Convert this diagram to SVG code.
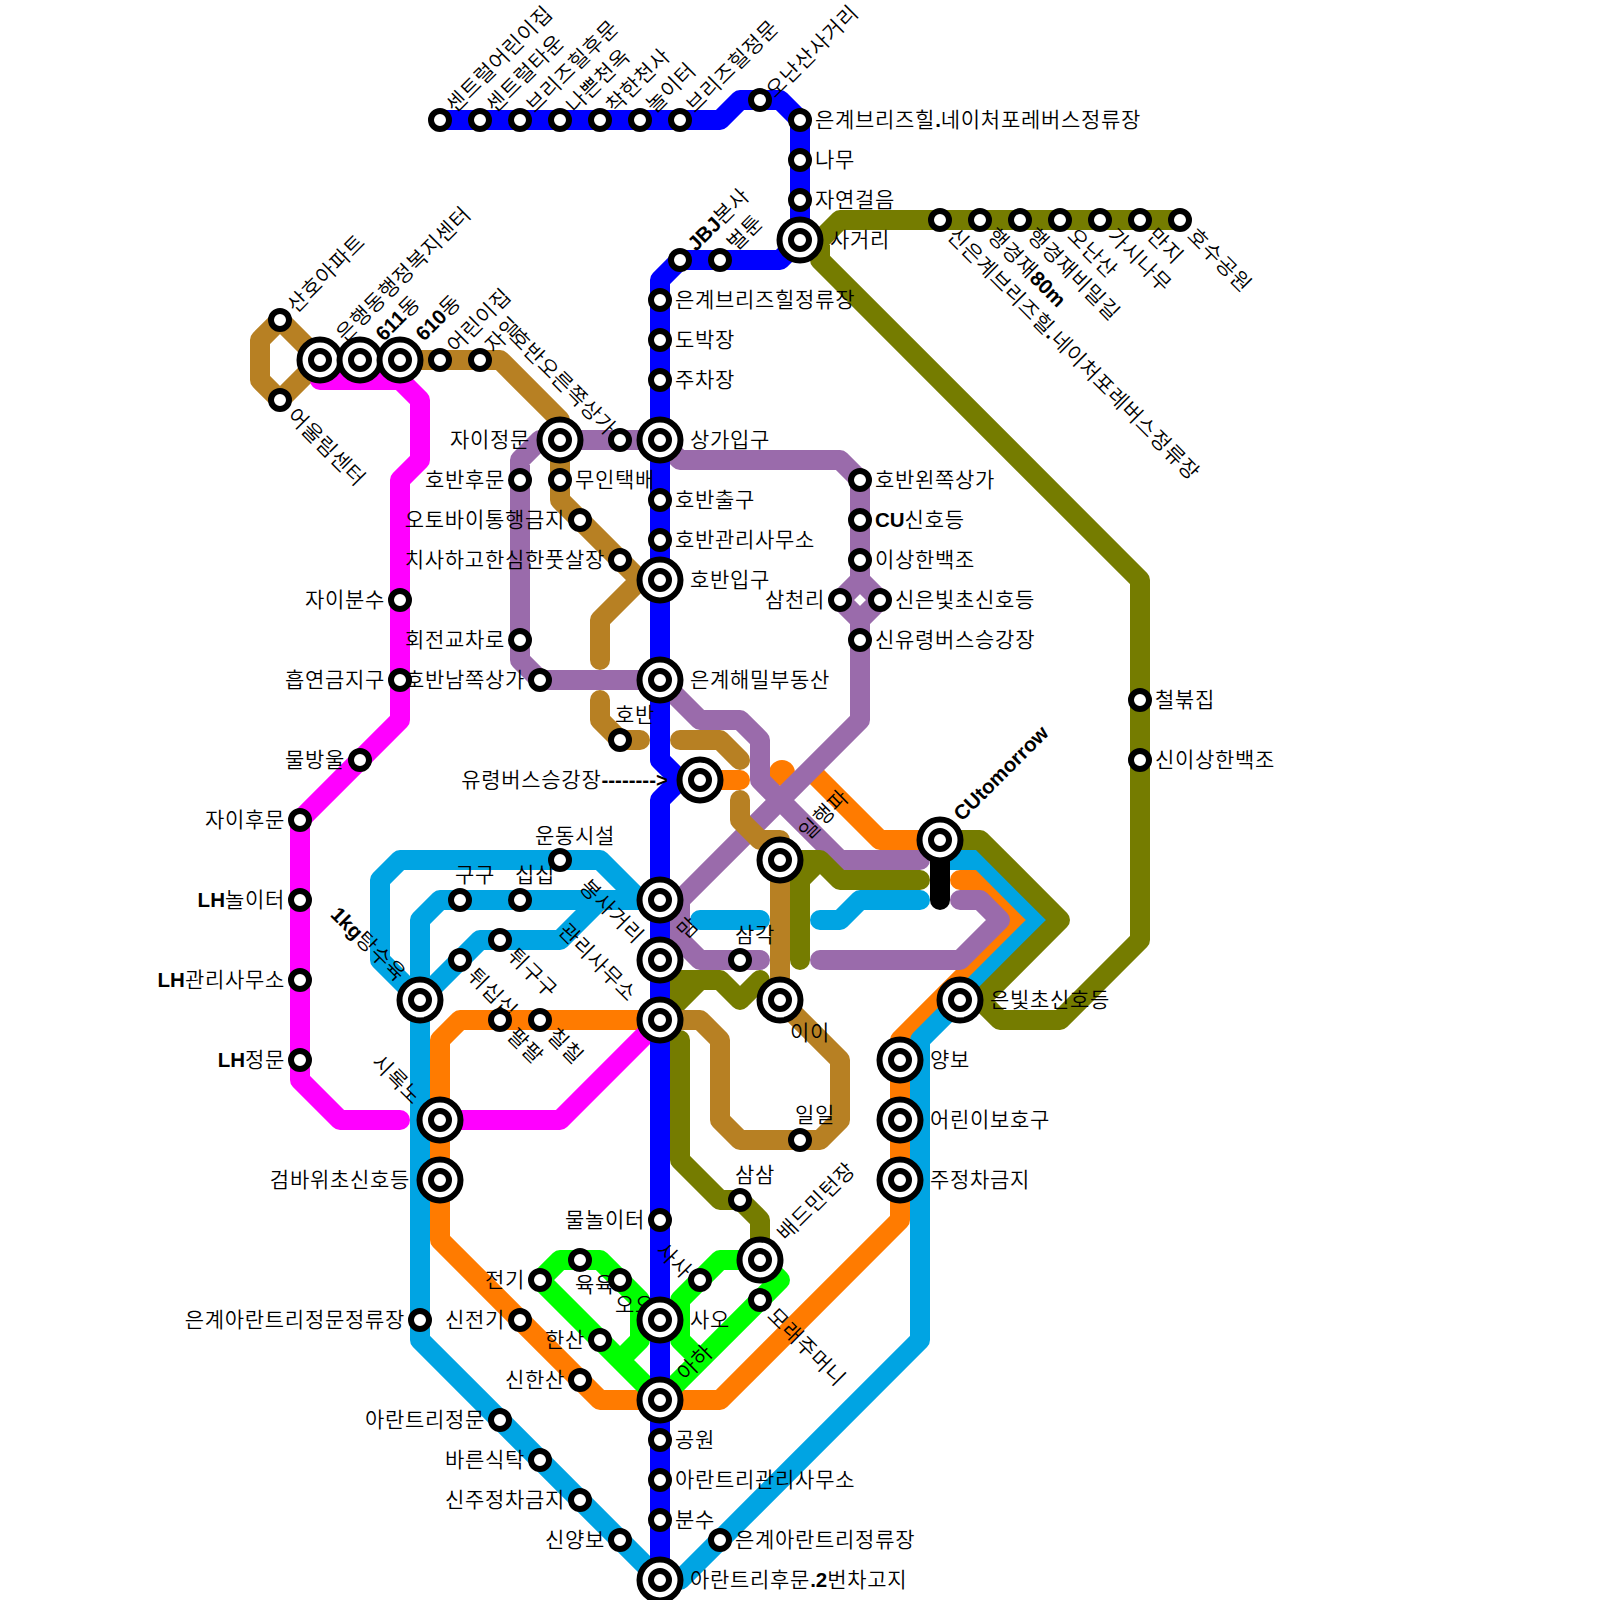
<svg xmlns="http://www.w3.org/2000/svg" width="1600" height="1600" viewBox="0 0 1600 1600">
<style>
text{font-family:"Liberation Sans","Noto Sans CJK KR",sans-serif;font-size:21px;letter-spacing:.7px;font-weight:350;fill:#000}
.e{text-anchor:end}.m{text-anchor:middle}
.b{font-weight:bold;font-size:20.5px;letter-spacing:0}
#lines path{fill:none;stroke-width:20;stroke-linecap:round;stroke-linejoin:round}
.ring{fill:#fff;stroke:#000;stroke-width:6}
</style>
<defs>
<g id="sm"><circle class="ring" r="9"/></g>
<g id="bg"><circle class="ring" r="20.5"/><circle class="ring" r="9"/></g>
</defs>
<rect width="1600" height="1600" fill="#fff"/>
<g id="lines">
<path d="M880 840H940M880 840L815 775M960 880H980L1020 920L900 1040V1220L720 1400H600L440 1240V1040L460 1020H660M700 780H740" stroke="#ff7b00"/>
<circle cx="782" cy="773" r="13" fill="#ff7b00"/>
<path d="M420 1000L380 960V880L400 860H600L640 900H660M420 1000V920L440 900H660M420 1000L480 940H560L600 900M700 920H760M820 920H840L860 900H920M950 860H980L1040 920L920 1040V1340L680 1580H660M420 1000V1340L660 1580" stroke="#00a4e3"/>
<path d="M560 440H660M560 440H540L520 460V660L540 680H660L700 720H740L760 740V780L840 860H920M660 440L680 460H840L860 480V580L840 600L860 620L880 600L860 580M860 620V720L680 900V940L700 960H760M820 960H960L1000 920L980 900H960" stroke="#9a6bab"/>
<path d="M1180 220H840L820 240V260L1140 580V940L1060 1020H1000L980 1000H960M800 240H820M940 840H980L1060 920L980 1000M780 860H820L840 880H920M800 960V880L820 860M670 985V1005M660 980H720L740 1000L760 980M660 1020L700 980M680 1040V1160L720 1200H740L760 1220V1260" stroke="#757c00"/>
<path d="M320 360L280 320L260 340V380L280 400L320 360H500L560 420V500L640 580L600 620V660M600 700V720L620 740H640M680 740H720L740 760M740 800V820L760 840H780V1000L840 1060V1120L820 1140H740L720 1120V1040L700 1020H660" stroke="#b78023"/>
<path d="M320 360V380H400L420 400V460L400 480V720L300 820V1080L340 1120H400M440 1120H560L660 1020" stroke="#ff00ff"/>
<path d="M660 1400L540 1280L560 1260H600L640 1300V1340L620 1360M660 1400L780 1280L760 1260H720L680 1300V1340L700 1360" stroke="#00ff00"/>
<path d="M440 120H720L740 100H780L800 120V240L780 260H680L660 280V760L680 780L660 800V1580M680 780H700" stroke="#0000ff"/>
<path d="M940 840V900" stroke="#000"/>
</g>
<g id="n1"><text transform="translate(455 114) rotate(-45)">센트럴어린이집</text><use href="#sm" x="440" y="120"/></g>
<g id="n2"><text transform="translate(495 114) rotate(-45)">센트럴타운</text><use href="#sm" x="480" y="120"/></g>
<g id="n3"><text transform="translate(535 114) rotate(-45)">브리즈힐후문</text><use href="#sm" x="520" y="120"/></g>
<g id="n4"><text transform="translate(575 114) rotate(-45)">나쁜천옥</text><use href="#sm" x="560" y="120"/></g>
<g id="n5"><text transform="translate(615 114) rotate(-45)">착한천사</text><use href="#sm" x="600" y="120"/></g>
<g id="n6"><text transform="translate(655 114) rotate(-45)">놀이터</text><use href="#sm" x="640" y="120"/></g>
<g id="n7"><text transform="translate(695 114) rotate(-45)">브리즈힐정문</text><use href="#sm" x="680" y="120"/></g>
<g id="n8"><text transform="translate(775 99) rotate(-45)">오난산사거리</text><use href="#sm" x="760" y="100"/></g>
<g id="n9"><text x="815" y="127">은계브리즈힐<tspan class="b">.</tspan>네이처포레버스정류장</text><use href="#sm" x="800" y="120"/></g>
<g id="n10"><text x="815" y="167">나무</text><use href="#sm" x="800" y="160"/></g>
<g id="n11"><text x="815" y="207">자연걸음</text><use href="#sm" x="800" y="200"/></g>
<g id="n12"><text x="830" y="247">사거리</text><use href="#bg" x="800" y="240"/></g>
<g id="n13"><text transform="translate(696 252) rotate(-45)"><tspan class="b">JBJ</tspan>본사</text><use href="#sm" x="680" y="260"/></g>
<g id="n14"><text transform="translate(736 252) rotate(-45)">벌툰</text><use href="#sm" x="720" y="260"/></g>
<g id="n15"><text x="675" y="307">은계브리즈힐정류장</text><use href="#sm" x="660" y="300"/></g>
<g id="n16"><text x="675" y="347">도박장</text><use href="#sm" x="660" y="340"/></g>
<g id="n17"><text x="675" y="387">주차장</text><use href="#sm" x="660" y="380"/></g>
<g id="n18"><text x="690" y="447">상가입구</text><use href="#bg" x="660" y="440"/></g>
<g id="n19"><text x="675" y="507">호반출구</text><use href="#sm" x="660" y="500"/></g>
<g id="n20"><text x="675" y="547">호반관리사무소</text><use href="#sm" x="660" y="540"/></g>
<g id="n21"><text x="690" y="587">호반입구</text><use href="#bg" x="660" y="580"/></g>
<g id="n22"><text x="690" y="687">은계해밀부동산</text><use href="#bg" x="660" y="680"/></g>
<g id="n23"><text class="e" x="668" y="787">유령버스승강장<tspan class="b">--------&gt;</tspan></text><use href="#bg" x="700" y="780"/></g>
<g id="n24"><text class="e" transform="translate(635 945) rotate(45)">봉사거리</text><text transform="translate(686 940) rotate(-45)">맘</text><use href="#bg" x="660" y="900"/></g>
<g id="n25"><text class="e" transform="translate(628 1003) rotate(45)">관리사무소</text><use href="#bg" x="660" y="960"/></g>
<g id="n26"><use href="#bg" x="660" y="1020"/></g>
<g id="n27"><text class="e" x="645" y="1227">물놀이터</text><use href="#sm" x="660" y="1220"/></g>
<g id="n28"><text class="m" x="635" y="1312">오오</text><text x="690" y="1327">사오</text><use href="#bg" x="660" y="1320"/></g>
<g id="n29"><text transform="translate(686 1382) rotate(-45)">아하</text><use href="#bg" x="660" y="1400"/></g>
<g id="n30"><text x="675" y="1447">공원</text><use href="#sm" x="660" y="1440"/></g>
<g id="n31"><text x="675" y="1487">아란트리관리사무소</text><use href="#sm" x="660" y="1480"/></g>
<g id="n32"><text x="675" y="1527">분수</text><use href="#sm" x="660" y="1520"/></g>
<g id="n33"><text x="690" y="1587">아란트리후문<tspan class="b">.2</tspan>번차고지</text><use href="#bg" x="660" y="1580"/></g>
<g id="n34"><text transform="translate(946 237) rotate(45)">신은계브리즈힐<tspan class="b">.</tspan>네이처포레버스정류장</text><use href="#sm" x="940" y="220"/></g>
<g id="n35"><text transform="translate(986 237) rotate(45)">행경재<tspan class="b">80m</tspan></text><use href="#sm" x="980" y="220"/></g>
<g id="n36"><text transform="translate(1026 237) rotate(45)">행경재비밀길</text><use href="#sm" x="1020" y="220"/></g>
<g id="n37"><text transform="translate(1066 237) rotate(45)">오난산</text><use href="#sm" x="1060" y="220"/></g>
<g id="n38"><text transform="translate(1106 237) rotate(45)">가시나무</text><use href="#sm" x="1100" y="220"/></g>
<g id="n39"><text transform="translate(1146 237) rotate(45)">만지</text><use href="#sm" x="1140" y="220"/></g>
<g id="n40"><text transform="translate(1186 237) rotate(45)">호수공원</text><use href="#sm" x="1180" y="220"/></g>
<g id="n41"><text x="1155" y="707">철붂집</text><use href="#sm" x="1140" y="700"/></g>
<g id="n42"><text x="1155" y="767">신이상한백조</text><use href="#sm" x="1140" y="760"/></g>
<g id="n43"><text transform="translate(296 314) rotate(-45)">산호아파트</text><use href="#sm" x="280" y="320"/></g>
<g id="n44"><text transform="translate(286 417) rotate(45)">어울림센터</text><use href="#sm" x="280" y="400"/></g>
<g id="n45"><text transform="translate(345 343) rotate(-45)">은행동행정복지센터</text><use href="#bg" x="320" y="360"/></g>
<g id="n46"><text transform="translate(384 342) rotate(-45)"><tspan class="b">611</tspan>동</text><use href="#bg" x="360" y="360"/></g>
<g id="n47"><text transform="translate(424 342) rotate(-45)"><tspan class="b">610</tspan>동</text><use href="#bg" x="400" y="360"/></g>
<g id="n48"><text transform="translate(456 354) rotate(-45)">어린이집</text><use href="#sm" x="440" y="360"/></g>
<g id="n49"><text transform="translate(494 354) rotate(-45)">자일</text><use href="#sm" x="480" y="360"/></g>
<g id="n50"><text class="e" transform="translate(607 437) rotate(45)">호반오른쪽상가</text><use href="#sm" x="620" y="440"/></g>
<g id="n51"><text class="e" x="530" y="447">자이정문</text><use href="#bg" x="560" y="440"/></g>
<g id="n52"><text class="e" x="505" y="487">호반후문</text><use href="#sm" x="520" y="480"/></g>
<g id="n53"><text x="575" y="487">무인택배</text><use href="#sm" x="560" y="480"/></g>
<g id="n54"><text class="e" x="565" y="527">오토바이통행금지</text><use href="#sm" x="580" y="520"/></g>
<g id="n55"><text class="e" x="605" y="567">치사하고한심한풋살장</text><use href="#sm" x="620" y="560"/></g>
<g id="n56"><text class="e" x="505" y="647">회전교차로</text><use href="#sm" x="520" y="640"/></g>
<g id="n57"><text class="e" x="525" y="687">호반남쪽상가</text><use href="#sm" x="540" y="680"/></g>
<g id="n58"><text class="m" x="635" y="722">호반</text><use href="#sm" x="620" y="740"/></g>
<g id="n59"><text class="e" x="385" y="607">자이분수</text><use href="#sm" x="400" y="600"/></g>
<g id="n60"><text class="e" x="385" y="687">흡연금지구</text><use href="#sm" x="400" y="680"/></g>
<g id="n61"><text class="e" x="345" y="767">물방울</text><use href="#sm" x="360" y="760"/></g>
<g id="n62"><text class="e" x="285" y="827">자이후문</text><use href="#sm" x="300" y="820"/></g>
<g id="n63"><text class="e" x="285" y="907"><tspan class="b">LH</tspan>놀이터</text><use href="#sm" x="300" y="900"/></g>
<g id="n64"><text class="e" x="285" y="987"><tspan class="b">LH</tspan>관리사무소</text><use href="#sm" x="300" y="980"/></g>
<g id="n65"><text class="e" x="285" y="1067"><tspan class="b">LH</tspan>정문</text><use href="#sm" x="300" y="1060"/></g>
<g id="n66"><text class="e" transform="translate(397 983) rotate(45)"><tspan class="b">1kg</tspan>탕수육</text><use href="#bg" x="420" y="1000"/></g>
<g id="n67"><text class="e" transform="translate(413 1106) rotate(45)">시록노</text><use href="#bg" x="440" y="1120"/></g>
<g id="n68"><text class="e" x="410" y="1187">검바위초신호등</text><use href="#bg" x="440" y="1180"/></g>
<g id="n69"><text class="e" x="405" y="1327">은계아란트리정문정류장</text><use href="#sm" x="420" y="1320"/></g>
<g id="n70"><text class="e" x="505" y="1327">신전기</text><use href="#sm" x="520" y="1320"/></g>
<g id="n71"><text class="e" x="525" y="1287">전기</text><use href="#sm" x="540" y="1280"/></g>
<g id="n72"><text class="m" x="595" y="1292">육육</text><use href="#sm" x="580" y="1260"/></g>
<g id="n73"><use href="#sm" x="620" y="1280"/></g>
<g id="n74"><text class="e" x="585" y="1347">한산</text><use href="#sm" x="600" y="1340"/></g>
<g id="n75"><text class="e" x="565" y="1387">신한산</text><use href="#sm" x="580" y="1380"/></g>
<g id="n76"><text class="e" x="485" y="1427">아란트리정문</text><use href="#sm" x="500" y="1420"/></g>
<g id="n77"><text class="e" x="525" y="1467">바른식탁</text><use href="#sm" x="540" y="1460"/></g>
<g id="n78"><text class="e" x="565" y="1507">신주정차금지</text><use href="#sm" x="580" y="1500"/></g>
<g id="n79"><text class="e" x="605" y="1547">신양보</text><use href="#sm" x="620" y="1540"/></g>
<g id="n80"><text x="735" y="1547">은계아란트리정류장</text><use href="#sm" x="720" y="1540"/></g>
<g id="n81"><text class="e" transform="translate(683 1280) rotate(45)">사사</text><use href="#sm" x="700" y="1280"/></g>
<g id="n82"><text transform="translate(766 1317) rotate(45)">모래주머니</text><use href="#sm" x="760" y="1300"/></g>
<g id="n83"><text transform="translate(786 1242) rotate(-45)">배드민턴장</text><use href="#bg" x="760" y="1260"/></g>
<g id="n84"><text class="m" x="755" y="1182">삼삼</text><use href="#sm" x="740" y="1200"/></g>
<g id="n85"><text class="m" x="575" y="843">운동시설</text><use href="#sm" x="560" y="860"/></g>
<g id="n86"><text class="m" x="475" y="882">구구</text><use href="#sm" x="460" y="900"/></g>
<g id="n87"><text class="m" x="535" y="882">십십</text><use href="#sm" x="520" y="900"/></g>
<g id="n88"><text transform="translate(506 957) rotate(45)">튀구구</text><use href="#sm" x="500" y="940"/></g>
<g id="n89"><text transform="translate(466 977) rotate(45)">튀십십</text><use href="#sm" x="460" y="960"/></g>
<g id="n90"><text transform="translate(506 1037) rotate(45)">팔팔</text><use href="#sm" x="500" y="1020"/></g>
<g id="n91"><text transform="translate(546 1037) rotate(45)">칠칠</text><use href="#sm" x="540" y="1020"/></g>
<g id="n92"><text class="m" x="755" y="942">삼각</text><use href="#sm" x="740" y="960"/></g>
<g id="n93"><text class="m" x="815" y="1122">일일</text><use href="#sm" x="800" y="1140"/></g>
<g id="n94"><text class="m" x="810" y="1040">이이</text><use href="#bg" x="780" y="1000"/></g>
<g id="n95"><text transform="translate(808 841) rotate(-45)">일행파</text><use href="#bg" x="780" y="860"/></g>
<g id="n96"><text transform="translate(962 822) rotate(-45)" class="b">CUtomorrow</text><use href="#bg" x="940" y="840"/></g>
<g id="n97"><text x="990" y="1007">은빛초신호등</text><use href="#bg" x="960" y="1000"/></g>
<g id="n98"><text x="930" y="1067">양보</text><use href="#bg" x="900" y="1060"/></g>
<g id="n99"><text x="930" y="1127">어린이보호구</text><use href="#bg" x="900" y="1120"/></g>
<g id="n100"><text x="930" y="1187">주정차금지</text><use href="#bg" x="900" y="1180"/></g>
<g id="n101"><text x="875" y="487">호반왼쪽상가</text><use href="#sm" x="860" y="480"/></g>
<g id="n102"><text x="875" y="527"><tspan class="b">CU</tspan>신호등</text><use href="#sm" x="860" y="520"/></g>
<g id="n103"><text x="875" y="567">이상한백조</text><use href="#sm" x="860" y="560"/></g>
<g id="n104"><text class="e" x="825" y="607">삼천리</text><use href="#sm" x="840" y="600"/></g>
<g id="n105"><text x="895" y="607">신은빛초신호등</text><use href="#sm" x="880" y="600"/></g>
<g id="n106"><text x="875" y="647">신유령버스승강장</text><use href="#sm" x="860" y="640"/></g>
</svg>
